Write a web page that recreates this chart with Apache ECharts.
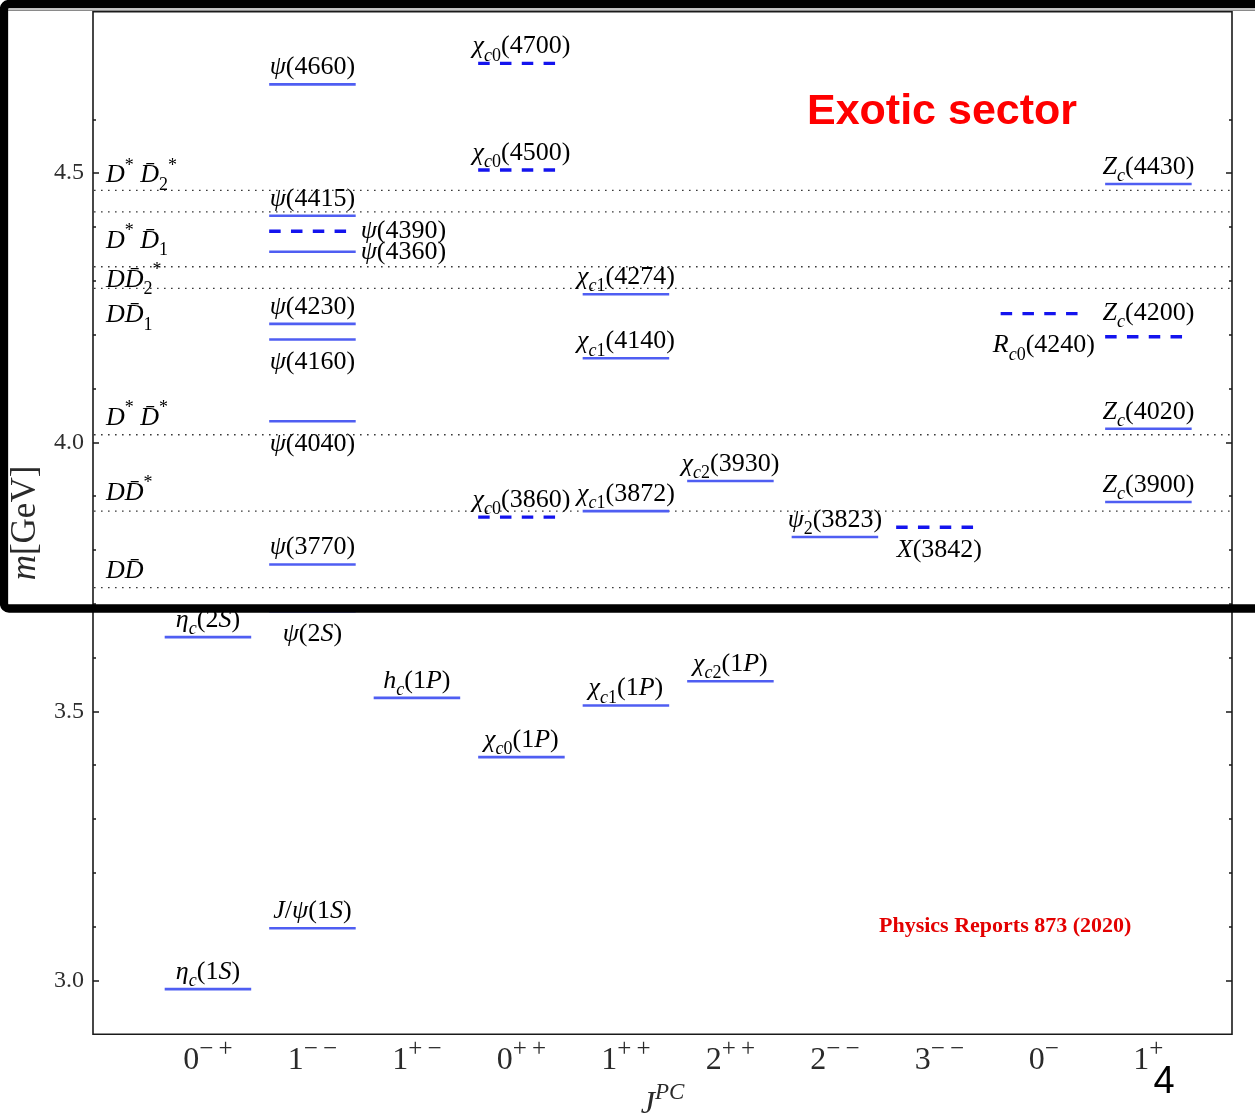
<!DOCTYPE html>
<html>
<head>
<meta charset="utf-8">
<title>Charmonium spectrum</title>
<script src="https://cdn.jsdelivr.net/npm/echarts@6/dist/echarts.min.js"></script>
<style>
  html, body { margin: 0; padding: 0; background: #ffffff; }
  #chart { width: 1255px; height: 1117px; }
</style>
</head>
<body>
<div id="chart"></div>
<script>
// J^PC columns (base spin + P/C signs written as a superscript)
const jpcLabels = ['0^{−\u2009+}', '1^{−\u2009−}', '1^{+\u2009−}', '0^{+\u2009+}', '1^{+\u2009+}',
                   '2^{+\u2009+}', '2^{−\u2009−}', '3^{−\u2009−}', '0^{−}', '1^{+}'];

// Mass axis ticks [GeV]
const yMajorTicks = [3.0, 3.5, 4.0, 4.5];
const yMinorTicks = [3.1, 3.2, 3.3, 3.4, 3.6, 3.7, 3.8, 3.9, 4.1, 4.2, 4.3, 4.4, 4.6];

// States: name, J^PC column index, mass [GeV], exotic candidate (dashed)
const stateNames = [
  'η_c(1S)', 'η_c(2S)',
  'J/ψ(1S)', 'ψ(2S)', 'ψ(3770)', 'ψ(4040)', 'ψ(4160)', 'ψ(4230)', 'ψ(4360)', 'ψ(4390)', 'ψ(4415)', 'ψ(4660)',
  'h_c(1P)',
  'χ_{c0}(1P)', 'χ_{c0}(3860)', 'χ_{c0}(4500)', 'χ_{c0}(4700)',
  'χ_{c1}(1P)', 'χ_{c1}(3872)', 'χ_{c1}(4140)', 'χ_{c1}(4274)',
  'χ_{c2}(1P)', 'χ_{c2}(3930)',
  'ψ_2(3823)',
  'X(3842)',
  'R_{c0}(4240)',
  'Z_c(3900)', 'Z_c(4020)', 'Z_c(4200)', 'Z_c(4430)'
];
const stateColumns = [0, 0, 1, 1, 1, 1, 1, 1, 1, 1, 1, 1, 2, 3, 3, 3, 3, 4, 4, 4, 4, 5, 5, 6, 7, 8, 9, 9, 9, 9];
const stateMasses = [
  2.984, 3.638,
  3.097, 3.686, 3.773, 4.039, 4.191, 4.220, 4.354, 4.392, 4.421, 4.665,
  3.525,
  3.415, 3.861, 4.506, 4.704,
  3.511, 3.872, 4.156, 4.275,
  3.556, 3.928,
  3.824,
  3.842,
  4.239,
  3.889, 4.025, 4.196, 4.480
];
const stateExotic = [0, 0, 0, 0, 0, 0, 0, 0, 0, 1, 0, 0, 0, 0, 1, 1, 1, 0, 0, 0, 0, 0, 0, 0, 1, 1, 0, 0, 1, 0];

// Open-charm thresholds
const thresholdNames = ['DD\u0304', 'DD\u0304^*', 'D^* D\u0304^*', 'DD\u0304_1', 'DD\u0304_2^*', 'D^* D\u0304_1', 'D^* D\u0304_2^*'];
const thresholdMasses = [3.730, 3.872, 4.014, 4.286, 4.326, 4.428, 4.468];

// ---- layout / style settings ----
const SERIF = '"Liberation Serif", "DejaVu Serif", serif';
const TEXT_COLOR = '#1e1e1e';
const LEVEL_HALF_WIDTH = 0.414;
const labelSide = ['top', 'top', 'top', 'bottom', 'top', 'bottom', 'bottom', 'top', 'right', 'right', 'top', 'top',
                   'top', 'top', 'top', 'top', 'top', 'top', 'top', 'top', 'top', 'top', 'top', 'top',
                   'bottom', 'bottom', 'top', 'top', 'top', 'top'];
const labelNudge = { 'R_{c0}(4240)': 9, 'Z_c(4200)': -7 };
const thresholdLabelShift = [-16, -18, -17, 27, 13, 29, -15];

// Turn a small TeX-like string (x_{ab}, x^{cd}) into ECharts rich-text markup.
function toRich(s) {
  const chars = Array.from(s);
  const tokens = [];
  const add = (style, txt) => {
    const last = tokens[tokens.length - 1];
    if (last && last.style === style) last.txt += txt; else tokens.push({ style, txt });
  };
  const kind = (c) => /[A-Za-z\u0370-\u03FF]/.test(c) ? 'I' : 'U';
  let i = 0;
  while (i < chars.length) {
    const c = chars[i];
    if (c === '_' || c === '^') {
      let grp;
      if (chars[i + 1] === '{') {
        const j = chars.indexOf('}', i);
        grp = chars.slice(i + 2, j);
        i = j + 1;
      } else {
        grp = [chars[i + 1]];
        i += 2;
      }
      const pre = c === '_' ? 'sub' : 'sup';
      grp.forEach(g => add(pre + kind(g), g));
      continue;
    }
    let t = c;
    while (chars[i + 1] === '\u0304') { t += chars[i + 1]; i++; }
    add(kind(c) === 'I' ? 'it' : 'up', t);
    i++;
  }
  return tokens.map(t => '{' + t.style + '|' + t.txt + '}').join('');
}

function makeRich(size, supShift, subShift, color, smallSize) {
  const L = Math.round(size * 1.44);
  const small = smallSize || Math.round(size * 0.68);
  const base = { fontFamily: SERIF, fontSize: size, color: color, lineHeight: L, verticalAlign: 'middle' };
  const sup = { fontFamily: SERIF, fontSize: small, color: color, lineHeight: L - 2 * supShift, verticalAlign: 'top' };
  const sub = { fontFamily: SERIF, fontSize: small, color: color, lineHeight: L - 2 * subShift, verticalAlign: 'bottom' };
  return {
    it: Object.assign({}, base, { fontStyle: 'italic' }),
    up: Object.assign({}, base),
    supI: Object.assign({}, sup, { fontStyle: 'italic' }),
    supU: Object.assign({}, sup),
    subI: Object.assign({}, sub, { fontStyle: 'italic' }),
    subU: Object.assign({}, sub)
  };
}

const stateRich = makeRich(26, 9, 8, TEXT_COLOR);
const tickRich = makeRich(32, 9, 9, '#2a2a2a', 25);

const SOLID_COLOR = '#4f5ef2';
const DASH_COLOR = '#1414ee';

const chart = echarts.init(document.getElementById('chart'), null, { renderer: 'canvas' });

const hiddenLine = { show: false, onZero: false };

function yAxisBase(position) {
  return {
    type: 'value', min: 2.9, max: 4.8, position: position,
    axisLine: hiddenLine, splitLine: { show: false }
  };
}

const option = {
  backgroundColor: '#ffffff',
  animation: false,
  grid: {
    show: true, left: 93, right: 23, top: 11.7, bottom: 82.7,
    outerBoundsMode: 'none', containLabel: false,
    borderColor: '#1a1a1a', borderWidth: 1.6, backgroundColor: 'transparent'
  },
  xAxis: {
    type: 'value', min: -1.1, max: 9.8,
    axisLine: hiddenLine, splitLine: { show: false }, axisTick: { show: false },
    axisLabel: {
      customValues: jpcLabels.map((_, i) => i),
      margin: 3,
      formatter: (v) => toRich(jpcLabels[Math.round(v)]),
      rich: tickRich
    },
    name: '{it|J}{supI|PC}',
    nameLocation: 'middle',
    nameGap: 44,
    nameTextStyle: { rich: makeRich(32, 10, 9, '#2a2a2a', 23) }
  },
  yAxis: [
    Object.assign(yAxisBase('left'), {
      axisTick: { inside: true, length: 6, customValues: yMajorTicks, lineStyle: { color: '#1a1a1a', width: 1.5 } },
      axisLabel: {
        customValues: yMajorTicks, margin: 9,
        formatter: (v) => v.toFixed(1),
        fontFamily: SERIF, fontSize: 24, color: '#2e2e2e'
      },
      name: '{it|m}{up|[GeV]}',
      nameLocation: 'middle', nameRotate: 90, nameGap: 39,
      nameTextStyle: { rich: makeRich(35, 9, 9, '#2a2a2a') }
    }),
    Object.assign(yAxisBase('left'), {
      axisTick: { inside: true, length: 3, customValues: yMinorTicks, lineStyle: { color: '#1a1a1a', width: 1.5 } },
      axisLabel: { show: false }
    }),
    Object.assign(yAxisBase('right'), {
      axisTick: { inside: true, length: 6, customValues: yMajorTicks, lineStyle: { color: '#1a1a1a', width: 1.5 } },
      axisLabel: { show: false }
    }),
    Object.assign(yAxisBase('right'), {
      axisTick: { inside: true, length: 3, customValues: yMinorTicks, lineStyle: { color: '#1a1a1a', width: 1.5 } },
      axisLabel: { show: false }
    })
  ],
  series: [
    {
      // thresholds: dotted lines across the whole plot with their channel label
      type: 'custom',
      name: 'thresholds',
      z: 2,
      clip: false,
      data: thresholdMasses.map((m, i) => [0, m, i]),
      renderItem: (params, api) => {
        const cs = params.coordSys;
        const idx = api.value(2);
        const y = api.coord([0, api.value(1)])[1];
        return {
          type: 'group',
          children: [
            {
              type: 'line',
              shape: { x1: cs.x + 1, y1: y, x2: cs.x + cs.width - 1, y2: y },
              style: { stroke: '#3a3a3a', lineWidth: 1.4, lineDash: [1.6, 5.4] }
            },
            {
              type: 'text',
              x: cs.x + 13,
              y: y + thresholdLabelShift[idx],
              style: { text: toRich(thresholdNames[idx]), rich: stateRich, align: 'left', verticalAlign: 'middle' }
            }
          ]
        };
      }
    },
    {
      // charmonium levels: short horizontal bars per J^PC column
      type: 'custom',
      name: 'states',
      z: 3,
      clip: false,
      data: stateMasses.map((m, i) => [stateColumns[i], m, i]),
      renderItem: (params, api) => {
        const idx = api.value(2);
        const col = api.value(0);
        const m = api.value(1);
        const p0 = api.coord([col - LEVEL_HALF_WIDTH, m]);
        const p1 = api.coord([col + LEVEL_HALF_WIDTH, m]);
        const exotic = stateExotic[idx] === 1;
        const name = stateNames[idx];
        const side = labelSide[idx];
        const nudge = labelNudge[name] || 0;
        let tx = (p0[0] + p1[0]) / 2, ty = p0[1] - 17, align = 'center';
        if (side === 'bottom') ty = p0[1] + 23;
        if (side === 'right') { tx = p1[0] + 5; ty = p0[1]; align = 'left'; }
        ty += nudge;
        return {
          type: 'group',
          children: [
            {
              type: 'line',
              shape: { x1: p0[0], y1: p0[1], x2: p1[0], y2: p1[1] },
              style: exotic
                ? { stroke: DASH_COLOR, lineWidth: 3.4, lineDash: [11.5, 10.3], lineCap: 'butt' }
                : { stroke: SOLID_COLOR, lineWidth: 2.6 }
            },
            {
              type: 'text',
              x: tx, y: ty,
              style: { text: toRich(name), rich: stateRich, align: align, verticalAlign: 'middle' }
            }
          ]
        };
      }
    }
  ],
  graphic: [
    {
      type: 'rect', z: 100, silent: true,
      shape: { x: 4, y: 4, width: 1300, height: 604.5, r: 5 },
      style: { fill: null, stroke: '#000000', lineWidth: 8.3 }
    },
    {
      type: 'line', z: 99, silent: true,
      shape: { x1: 8, y1: 10.2, x2: 1255, y2: 10.2 },
      style: { stroke: '#8a8a8a', lineWidth: 1.4 }
    },
    {
      type: 'text', z: 100, silent: true,
      x: 942, y: 112,
      style: {
        text: 'Exotic sector', fill: '#ff0000', align: 'center', verticalAlign: 'middle',
        font: 'bold 43px "Liberation Sans", Arial, sans-serif'
      }
    },
    {
      type: 'text', z: 100, silent: true,
      x: 879, y: 926,
      style: {
        text: 'Physics Reports 873 (2020)', fill: '#e30000', align: 'left', verticalAlign: 'middle',
        font: 'bold 22px "Liberation Serif", serif'
      }
    },
    {
      type: 'text', z: 100, silent: true,
      x: 1164, y: 1083,
      style: {
        text: '4', fill: '#000000', align: 'center', verticalAlign: 'middle',
        font: '38px "Liberation Sans", Arial, sans-serif'
      }
    }
  ]
};

chart.setOption(option);
</script>
</body>
</html>
